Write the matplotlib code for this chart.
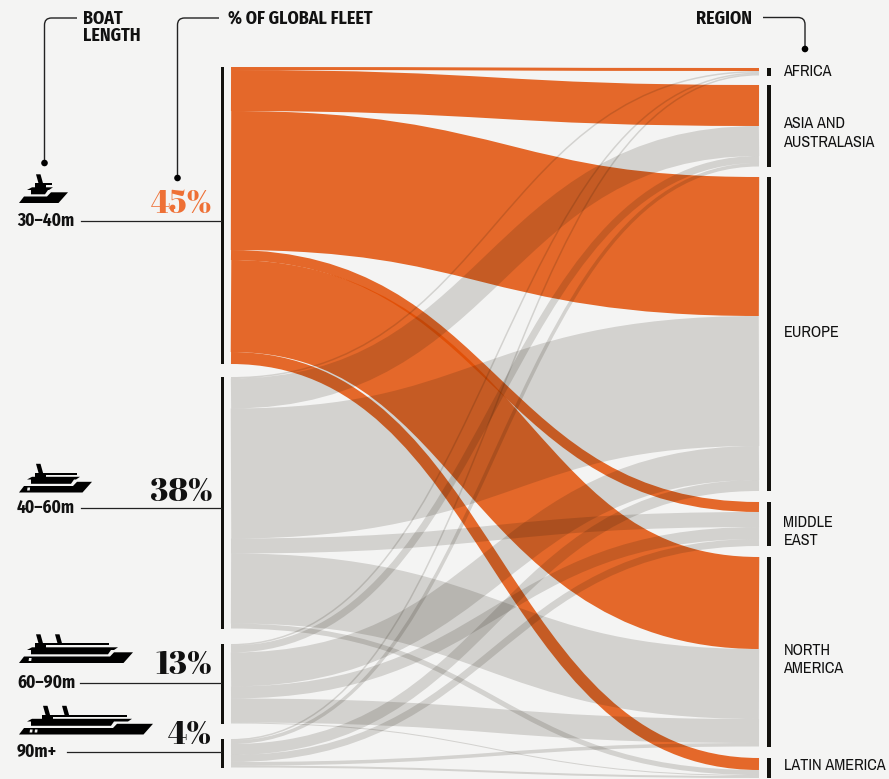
import matplotlib
matplotlib.use('Agg')
import matplotlib.pyplot as plt
from matplotlib.path import Path
from matplotlib.patches import PathPatch, Polygon, Rectangle, Circle

# flow sizes, one row per boat length, one column per region
lengths = ['30–40m', '40–60m', '60–90m', '90m+']
shares = ['45%', '38%', '13%', '4%']
regions = ['AFRICA', 'ASIA AND\nAUSTRALASIA', 'EUROPE', 'MIDDLE\nEAST', 'NORTH\nAMERICA', 'LATIN AMERICA']
flows_30_40 = [3, 41, 139, 10, 92, 12]
flows_40_60 = [1.5, 30, 130, 15, 70, 5]
flows_60_90 = [1.5, 7, 34, 12, 24, 1]
flows_90_up = [1.5, 3.5, 11, 7, 3.5, 2]

left_tops = [67, 377, 644, 739]
right_tops = [68, 85, 177, 502, 557, 758]
left_x, right_x = 231, 759
px = 72 / 100

BG = '#f4f4f3'
ORANGE = (225 / 255, 76 / 255, 1 / 255)
GRAY = (24 / 255, 17 / 255, 3 / 255)
NARROW = ['Archivo Narrow', 'Liberation Sans']
NARROW_BOLD = ['Fira Sans Condensed', 'Liberation Sans']
FAT = ['Abril Fatface', 'Liberation Serif']

fig = plt.figure(figsize=(8.89, 7.79), dpi=100, facecolor=BG)
ax = fig.add_axes([0, 0, 1, 1])
ax.set_xlim(0, 889)
ax.set_ylim(779, 0)
ax.axis('off')

rows = [flows_30_40, flows_40_60, flows_60_90, flows_90_up]
mid = (left_x + right_x) / 2
right_pos = list(right_tops)
for i, row in enumerate(rows):
    y = left_tops[i]
    for j, v in enumerate(row):
        y0 = y + v / 2
        y1 = right_pos[j] + v / 2
        y += v
        right_pos[j] += v
        p = Path([(left_x, y0), (mid, y0), (mid, y1), (right_x, y1)],
                 [Path.MOVETO, Path.CURVE4, Path.CURVE4, Path.CURVE4])
        color, alpha, z = (ORANGE, 0.83, 2) if i == 0 else (GRAY, 0.15, 3)
        ax.add_patch(PathPatch(p, fill=False, edgecolor=color, alpha=alpha, lw=v * px,
                               capstyle='butt', zorder=z))

# black bars next to the nodes
for i, row in enumerate(rows):
    top = left_tops[i]
    ax.add_patch(Rectangle((221, top), 3, sum(row), color='#12110d', lw=0, zorder=4))
for j in range(len(regions)):
    h = right_pos[j] - right_tops[j]
    ax.add_patch(Rectangle((767, right_tops[j]), 4, h, color='#12110d', lw=0, zorder=4))

# region labels
label_y = [71, 133, 332, 531.5, 659.5, 766]
for name, y in zip(regions, label_y):
    ax.text(783.5, y, name, family=NARROW, fontsize=11.7, va='center', ha='left',
            color='#111111', linespacing=1.28)


def leader(points, dot):
    (x0, y0), (cx, cy), (x1, y1) = points
    r = 7
    dx0 = r if x0 > cx else -r
    dy1 = r if y1 > cy else -r
    p = Path([(x0, y0), (cx + dx0, cy), (cx, cy), (cx, cy + dy1), (x1, y1)],
             [Path.MOVETO, Path.LINETO, Path.CURVE3, Path.CURVE3, Path.LINETO])
    ax.add_patch(PathPatch(p, fill=False, edgecolor='#222222', lw=1.0, zorder=5))
    ax.add_patch(Circle(dot, 3.3, color='black', lw=0, zorder=5))


leader([(77, 18), (44.5, 18), (44.5, 163)], (44.5, 163))
leader([(219, 18), (177.5, 18), (177.5, 178)], (177.5, 178))
leader([(763, 17.5), (805, 17.5), (805, 49)], (805, 49))

bold = dict(family=NARROW_BOLD, fontsize=12.9, fontweight='bold', color='#111111', va='center')
ax.text(83, 18.5, 'BOAT', ha='left', **bold)
ax.text(83, 36, 'LENGTH', ha='left', **bold)
ax.text(228, 18.5, '% OF GLOBAL FLEET', ha='left', **bold)
ax.text(752, 18.5, 'REGION', ha='right', **bold)

# rows on the left
line_y = [221, 508, 683, 752]
line_x = [81, 81, 80, 67]
pct_y = [205, 492.5, 666, 736]
for i in range(4):
    ax.plot([line_x[i], 221], [line_y[i]] * 2, color='#222222', lw=0.9, zorder=5)
    ax.text(17, line_y[i], lengths[i], family=NARROW_BOLD, fontsize=12.5, fontweight='bold',
            va='center', ha='left', color='#111111')
    ax.text(212, pct_y[i], shares[i], family=FAT, fontsize=23, fontweight='normal',
            va='center', ha='right', color='#ee7035' if i == 0 else '#111111')


def boat(yb, xr, xs, deck_x, top_x, masts, windows):
    def poly(pts, color='black', z=5):
        ax.add_patch(Polygon([(x, yb + dy) for x, dy in pts], color=color, lw=0, zorder=z))

    poly([(19, 0), (24, -6.5), (xs, -6.5), (xs + 4, -10.7), (xr, -10.7), (xr - 9.5, 0)])
    # deck and its overhang
    poly([(27, -13), (32, -15.7), (deck_x, -15.7), (deck_x - 4, -13), (xs + 1, -13),
          (xs - 2, -8.7), (31, -8.7), (31, -13)])
    # top bar and mast bases
    poly([(masts[0] - 1, -20), (top_x, -20), (top_x, -18), (masts[0] + 10, -18), (masts[0] + 10, -15),
          (masts[0] - 1, -15)])
    for m in masts:
        poly([(m, -28.7), (m + 4.5, -28.7), (m + 7.5, -18), (m + 3, -18)])
    for w in windows:
        poly([(w, -5), (w + 2.6, -5), (w + 2.2, -2), (w - 0.4, -2)], color=BG, z=6)


boat(203, 68, 47, 53, 52, [36], [])
boat(492.5, 92, 73, 80, 77, [36], [27.5])
boat(663, 133, 110, 118, 109, [36, 55], [29])
boat(734.5, 153, 113, 132, 127, [43, 62], [30, 35])

fig.savefig('out.png', dpi=100, facecolor=BG)
